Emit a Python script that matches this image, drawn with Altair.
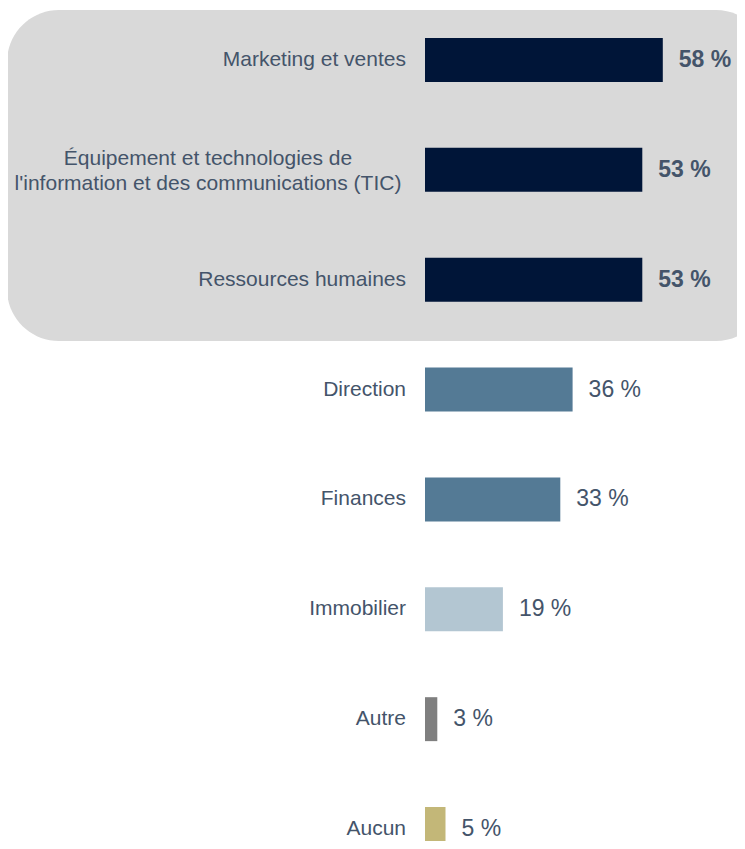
import altair as alt
import pandas as pd

categories = [
    "Marketing et ventes",
    "Équipement  et technologies de\nl'information et des communications (TIC)",
    "Ressources humaines",
    "Direction",
    "Finances",
    "Immobilier",
    "Autre",
    "Aucun",
]
values = [58, 53, 53, 36, 33, 19, 3, 5]
colors = ["#001538", "#001538", "#001538", "#547A95", "#547A95", "#B3C6D2", "#7F7F7F", "#C3B778"]
highlight = [True, True, True, False, False, False, False, False]
multiline = [False, True, False, False, False, False, False, False]

df = pd.DataFrame({
    "cat": categories,
    "value": values,
    "color": colors,
    "hl": highlight,
    "ml": multiline,
})
df["label"] = [f"{v} %" for v in values]

FONT = "Liberation Sans"
TXT = "#44546A"

yscale = alt.Scale(domain=categories, range=[30, 843], paddingInner=0.6, paddingOuter=0)
xscale = alt.Scale(domain=[0, 100], range=[417, 827])

base = alt.Chart(df)
Y = alt.Y("cat:N", scale=yscale, axis=None, sort=categories)

bg = alt.Chart(pd.DataFrame({"a": [1]})).mark_rect(
    color="#D9D9D9", cornerRadius=52
).encode(
    x=alt.value(-1), x2=alt.value(760), y=alt.value(2), y2=alt.value(333)
)

bars = base.mark_bar().encode(
    x=alt.X("value:Q", scale=xscale, axis=None),
    y=Y,
    color=alt.Color("color:N", scale=None),
)

cat_single = base.transform_filter("!datum.ml").mark_text(
    align="right", baseline="middle", dx=-19, font=FONT, fontSize=21, color=TXT
).encode(x=alt.datum(0, scale=xscale), y=Y, text="cat:N")

cat_multi = base.transform_filter("datum.ml").mark_text(
    align="center", baseline="middle", dx=-217, dy=-11, font=FONT, fontSize=21, color=TXT,
    lineBreak="\n", lineHeight=25
).encode(x=alt.datum(0, scale=xscale), y=Y, text="cat:N")

val_bold = base.transform_filter("datum.hl").mark_text(
    align="left", baseline="middle", dx=16, font=FONT, fontSize=23, fontWeight="bold", color=TXT
).encode(x=alt.X("value:Q", scale=xscale), y=Y, text="label:N")

val_norm = base.transform_filter("!datum.hl").mark_text(
    align="left", baseline="middle", dx=16, font=FONT, fontSize=23, color=TXT
).encode(x=alt.X("value:Q", scale=xscale), y=Y, text="label:N")

chart = alt.layer(bg, bars, cat_single, cat_multi, val_bold, val_norm).properties(
    width=729, height=833, autosize=alt.AutoSizeParams(type="none"), padding=0
).configure_view(stroke="transparent", strokeWidth=0)

chart.save("out.html", embed_options={"renderer": "svg", "actions": False})
